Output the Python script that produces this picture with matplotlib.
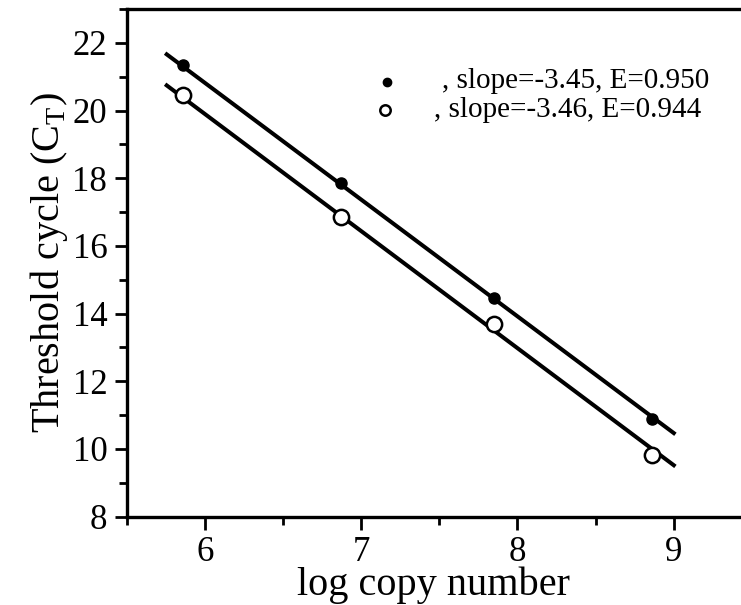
import numpy as np
import matplotlib
matplotlib.use('Agg')
import matplotlib.pyplot as plt
from matplotlib.ticker import MultipleLocator

# data
log_copies = [5.86, 6.87, 7.85, 8.86]
ct_filled = [21.35, 17.85, 14.45, 10.88]
ct_open = [20.45, 16.85, 13.68, 9.82]

# fitted lines (slope, intercept) and the x span they cover
fit_filled = (-3.45, 41.52)
fit_open = (-3.46, 40.66)
fit_range = [5.756, 9.0]

labels = [', slope=-3.45, E=0.950', ', slope=-3.46, E=0.944']

plt.rcParams['font.family'] = ['Liberation Serif', 'DejaVu Serif']
plt.rcParams['mathtext.fontset'] = 'custom'
plt.rcParams['mathtext.rm'] = 'Liberation Serif'

fig = plt.figure(figsize=(7.41, 6.05), dpi=100)
ax = fig.add_axes([0.171, 0.146, 0.829, 0.839])

xs = np.array(fit_range)
ax.plot(xs, fit_filled[0] * xs + fit_filled[1], color='black', lw=2.9, zorder=2)
ax.plot(xs, fit_open[0] * xs + fit_open[1], color='black', lw=2.9, zorder=2)
ax.plot(log_copies, ct_filled, 'o', ms=8, color='black', zorder=3)
ax.plot(log_copies, ct_open, 'o', ms=11, mfc='white', mec='black', mew=1.8, zorder=3)

# legend drawn by hand (marker + text per series)
ax.plot([0.423], [0.857], 'o', ms=6, color='black', transform=ax.transAxes)
ax.plot([0.4205], [0.801], 'o', ms=7.5, mfc='white', mec='black', mew=1.8,
        transform=ax.transAxes)
ax.text(0.514, 0.844, labels[0], transform=ax.transAxes, fontsize=21, va='baseline')
ax.text(0.500, 0.787, labels[1], transform=ax.transAxes, fontsize=21, va='baseline')

ax.set_xlim(5.5, 9.43)
ax.set_ylim(8, 23)
ax.xaxis.set_major_locator(MultipleLocator(1))
ax.xaxis.set_minor_locator(MultipleLocator(0.5))
ax.yaxis.set_major_locator(MultipleLocator(2))
ax.yaxis.set_minor_locator(MultipleLocator(1))
ax.tick_params(which='major', direction='out', length=9, width=2, labelsize=25, pad=5)
ax.tick_params(which='minor', direction='out', length=5.5, width=2)
for side in ['left', 'bottom', 'top']:
    ax.spines[side].set_linewidth(2.4)
ax.spines['right'].set_visible(False)

ax.set_xlabel('log copy number', fontsize=29, labelpad=-2)
ax.set_ylabel('Threshold cycle (C$_\\mathrm{T}$)', fontsize=29, labelpad=2)

fig.savefig('out.png', dpi=100)
